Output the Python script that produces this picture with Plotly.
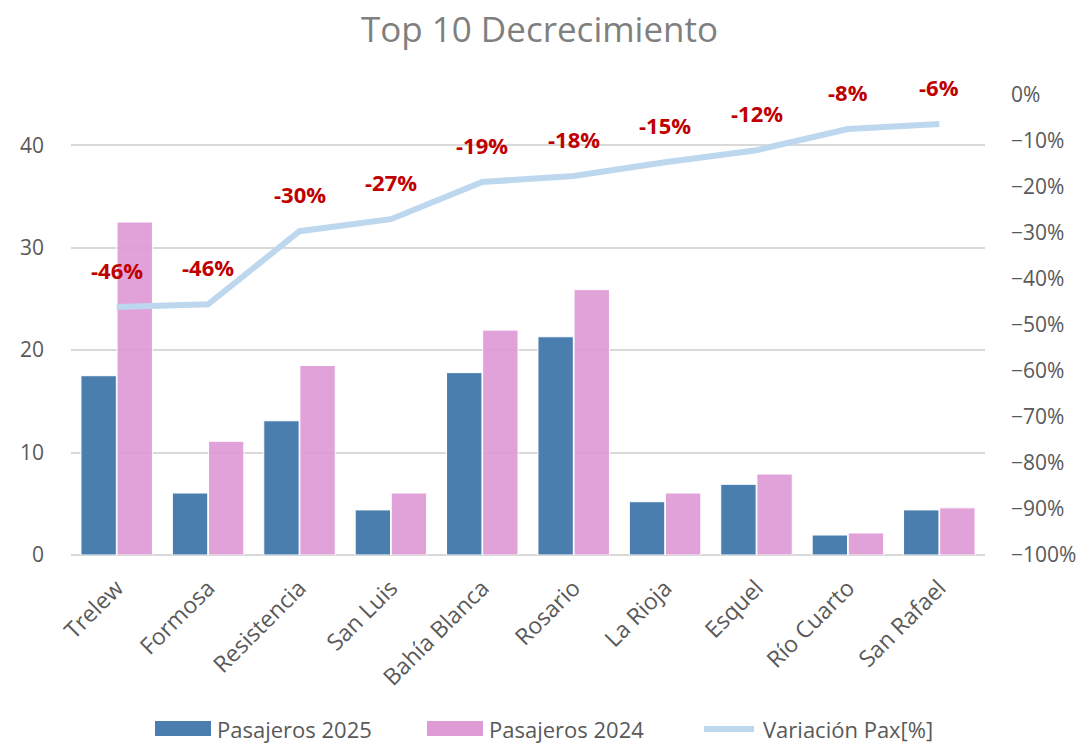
import plotly.graph_objects as go

cities = ["Trelew", "Formosa", "Resistencia", "San Luis", "Bahía Blanca", "Rosario",
          "La Rioja", "Esquel", "Río Cuarto", "San Rafael"]
pax_2025 = [17.5, 6.05, 13.1, 4.4, 17.8, 21.3, 5.2, 6.9, 1.95, 4.4]
pax_2024 = [32.5, 11.1, 18.5, 6.05, 21.95, 25.9, 6.05, 7.9, 2.15, 4.6]
variacion = [-0.461, -0.455, -0.296, -0.27, -0.189, -0.176, -0.146, -0.12, -0.074, -0.063]
var_labels = ["-46%", "-46%", "-30%", "-27%", "-19%", "-18%", "-15%", "-12%", "-8%", "-6%"]
series_names = ["Pasajeros 2025", "Pasajeros 2024", "Variación Pax[%]"]

FONT = "Open Sans"
GREY = "#595959"
BLUE = "#4A7EAF"
PINK = "#DE9BD6"
LINE = "#BDD7EE"

fig = go.Figure()
fig.add_trace(go.Bar(x=cities, y=pax_2025, name=series_names[0], showlegend=False,
                     marker=dict(color=BLUE, line=dict(color="white", width=1))))
fig.add_trace(go.Bar(x=cities, y=pax_2024, name=series_names[1], showlegend=False,
                     marker=dict(color=PINK, line=dict(color="white", width=1)),
                     opacity=0.92))
fig.add_trace(go.Scatter(x=cities, y=variacion, name=series_names[2], yaxis="y2",
                         mode="lines", showlegend=False,
                         line=dict(color=LINE, width=6)))

for c, v, t in zip(cities, variacion, var_labels):
    fig.add_annotation(x=c, y=v, yref="y2", xref="x", text="<b>%s</b>" % t,
                       showarrow=False, yshift=37,
                       font=dict(family=FONT, size=22, color="#C00000"))

# manual legend (wide swatches like the original)
W, H = 1079, 743
leg_y = 729
swatch_x = [155, 427, 701]
for i, (name, sx) in enumerate(zip(series_names, swatch_x)):
    if i < 2:
        fig.add_shape(type="rect", xref="paper", yref="paper",
                      x0=(sx - 71) / 914, x1=(sx + 56 - 71) / 914,
                      y0=(555 - (leg_y + 7)) / 460, y1=(555 - (leg_y - 8)) / 460,
                      fillcolor=[BLUE, PINK][i], line=dict(width=0))
    else:
        fig.add_shape(type="line", xref="paper", yref="paper",
                      x0=(sx + 3 - 71) / 914, x1=(sx + 56 - 3 - 71) / 914,
                      y0=(555 - leg_y) / 460, y1=(555 - leg_y) / 460,
                      line=dict(color=LINE, width=6))
    fig.add_annotation(xref="paper", yref="paper", x=(sx + 60 - 71) / 914,
                       y=(555 - leg_y) / 460, xanchor="left", yanchor="middle",
                       text=name, showarrow=False,
                       font=dict(family=FONT, size=22, color=GREY))

fig.update_layout(
    width=W, height=H,
    paper_bgcolor="white", plot_bgcolor="white",
    margin=dict(l=71, r=94, t=95, b=188),
    title=dict(text="Top 10 Decrecimiento", x=0.5, xanchor="center", y=0.96, yanchor="middle",
               font=dict(family=FONT, size=35, color="#7F7F7F")),
    barmode="group", bargap=0.21, bargroupgap=0.02,
    font=dict(family=FONT, color=GREY, size=21),
    showlegend=False,
    xaxis=dict(tickangle=-45, tickfont=dict(size=23, color=GREY), showgrid=False,
               showline=False, ticks="", automargin=False, ticklabelstandoff=14),
    yaxis=dict(range=[0, 44.9], tickvals=[0, 10, 20, 30, 40], showgrid=True,
               gridcolor="#D9D9D9", gridwidth=2, zeroline=True, zerolinecolor="#D9D9D9",
               zerolinewidth=2, tickfont=dict(size=21, color=GREY), ticks="",
               ticklabelstandoff=26, automargin=False),
    yaxis2=dict(range=[-1, 0], overlaying="y", side="right", tickformat=".0%",
                dtick=0.1, showgrid=False, zeroline=False, ticks="",
                tickfont=dict(size=21, color=GREY), ticklabelstandoff=25,
                automargin=False),
)

fig.write_html("out.html", config={"displayModeBar": False},
               post_script="document.body.style.margin='0';document.body.style.overflow='hidden';")
